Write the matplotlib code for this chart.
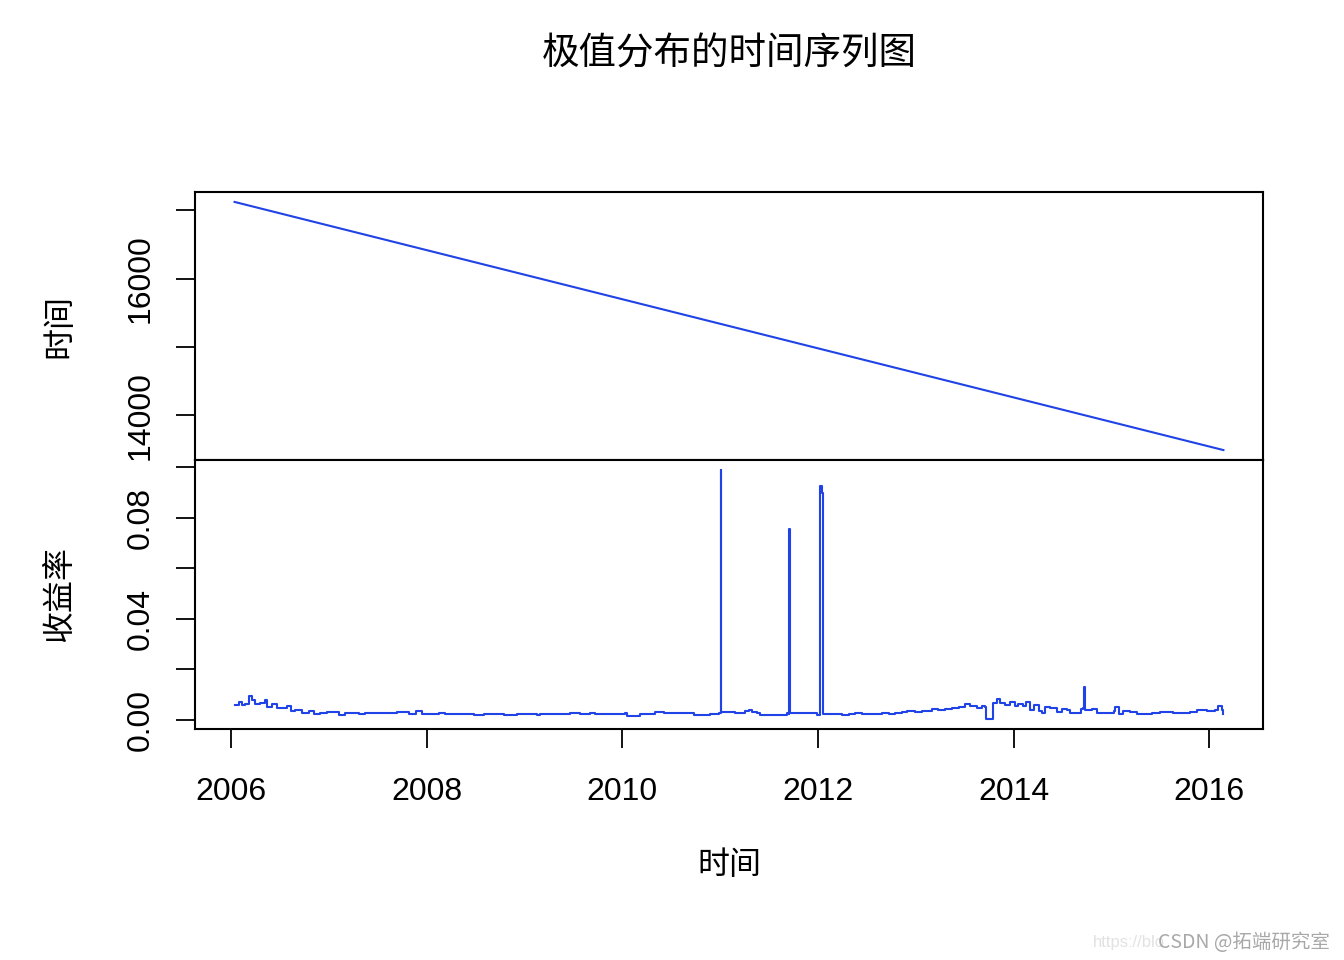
import numpy as np
import matplotlib
matplotlib.use('Agg')
import matplotlib.pyplot as plt

plt.rcParams['font.family'] = ['Liberation Sans', 'Noto Sans CJK SC', 'DejaVu Sans']
cjk = ['Noto Sans CJK SC', 'DejaVu Sans']

# top panel: the "时间" series (straight decline)
t_year = [2006.034, 2016.146]
t_val = [17124, 13489]

# bottom panel: 收益率 (decimal years)
r_year = [2006.034, 2006.075, 2006.109, 2006.143, 2006.184, 2006.211, 2006.245, 2006.297,
          2006.341, 2006.365, 2006.416, 2006.467, 2006.518, 2006.569, 2006.613, 2006.654,
          2006.723, 2006.791, 2006.842, 2006.910, 2006.978, 2007.046, 2007.097, 2007.166,
          2007.234, 2007.302, 2007.370, 2007.455, 2007.541, 2007.609, 2007.694, 2007.745,
          2007.813, 2007.888, 2007.950, 2008.052, 2008.120, 2008.188, 2008.256, 2008.324,
          2008.393, 2008.478, 2008.512, 2008.580, 2008.785, 2008.921, 2009.125, 2009.160,
          2009.330, 2009.466, 2009.568, 2009.671, 2009.722, 2009.875, 2010.029, 2010.046,
          2010.114, 2010.182, 2010.301, 2010.335, 2010.421, 2010.557, 2010.625, 2010.727,
          2010.830, 2010.898, 2010.983, 2011.004, 2011.008, 2011.012, 2011.034, 2011.119,
          2011.153, 2011.256, 2011.290, 2011.324, 2011.375, 2011.409, 2011.665, 2011.682,
          2011.702, 2011.706, 2011.710, 2011.733, 2011.971, 2011.988, 2012.018, 2012.022,
          2012.043, 2012.047, 2012.074, 2012.210, 2012.244, 2012.312, 2012.380, 2012.449,
          2012.619, 2012.653, 2012.721, 2012.789, 2012.857, 2012.908, 2012.994, 2013.062,
          2013.164, 2013.232, 2013.301, 2013.369, 2013.437, 2013.505, 2013.556, 2013.624,
          2013.675, 2013.710, 2013.713, 2013.788, 2013.791, 2013.829, 2013.863, 2013.914,
          2013.965, 2014.016, 2014.050, 2014.101, 2014.125, 2014.170, 2014.204, 2014.255,
          2014.289, 2014.323, 2014.374, 2014.442, 2014.493, 2014.545, 2014.579, 2014.647,
          2014.688, 2014.712, 2014.718, 2014.722, 2014.726, 2014.800, 2014.851, 2014.953,
          2015.022, 2015.039, 2015.073, 2015.124, 2015.192, 2015.260, 2015.362, 2015.414,
          2015.499, 2015.567, 2015.635, 2015.738, 2015.806, 2015.874, 2015.976, 2016.061,
          2016.095, 2016.129, 2016.146]
r_val = [0.0057, 0.0072, 0.0059, 0.0063, 0.0096, 0.0079, 0.0063, 0.0066,
         0.0079, 0.0050, 0.0063, 0.0046, 0.0046, 0.0053, 0.0033, 0.0039,
         0.0026, 0.0033, 0.0024, 0.0026, 0.0032, 0.0029, 0.0020, 0.0025,
         0.0026, 0.0024, 0.0028, 0.0026, 0.0026, 0.0026, 0.0032, 0.0029,
         0.0022, 0.0036, 0.0024, 0.0022, 0.0026, 0.0024, 0.0021, 0.0022,
         0.0021, 0.0020, 0.0017, 0.0022, 0.0017, 0.0021, 0.0017, 0.0022,
         0.0022, 0.0026, 0.0022, 0.0026, 0.0022, 0.0022, 0.0026, 0.0016,
         0.0016, 0.0022, 0.0022, 0.0030, 0.0028, 0.0028, 0.0025, 0.0017,
         0.0017, 0.0022, 0.0026, 0.0030, 0.0988, 0.0030, 0.0029, 0.0029,
         0.0025, 0.0033, 0.0040, 0.0030, 0.0026, 0.0017, 0.0017, 0.0026,
         0.0022, 0.0755, 0.0025, 0.0025, 0.0025, 0.0018, 0.0020, 0.0925,
         0.0897, 0.0021, 0.0021, 0.0021, 0.0018, 0.0021, 0.0025, 0.0022,
         0.0022, 0.0028, 0.0022, 0.0028, 0.0032, 0.0036, 0.0030, 0.0036,
         0.0042, 0.0040, 0.0043, 0.0045, 0.0049, 0.0063, 0.0053, 0.0046,
         0.0055, 0.0049, 0.0003, 0.0003, 0.0068, 0.0083, 0.0068, 0.0059,
         0.0072, 0.0053, 0.0063, 0.0055, 0.0070, 0.0040, 0.0059, 0.0033,
         0.0026, 0.0050, 0.0046, 0.0032, 0.0042, 0.0037, 0.0026, 0.0026,
         0.0042, 0.0045, 0.0079, 0.0129, 0.0040, 0.0042, 0.0026, 0.0026,
         0.0033, 0.0049, 0.0024, 0.0033, 0.0030, 0.0022, 0.0021, 0.0026,
         0.0030, 0.0032, 0.0026, 0.0026, 0.0032, 0.0037, 0.0036, 0.0037,
         0.0053, 0.0040, 0.0022]

years = list(range(2006, 2017, 2))
line_col = '#1f43e6'

fig = plt.figure(figsize=(13.44, 9.6), dpi=100)
ax1 = fig.add_axes([195/1344, 1-460/960, 1068/1344, 268/960])
ax2 = fig.add_axes([195/1344, 1-729/960, 1068/1344, 269/960], sharex=ax1)

ax1.plot(t_year, t_val, color=line_col, lw=1.5)
ax2.plot(r_year, r_val, color=line_col, lw=1.5, drawstyle='steps-post')

for ax in (ax1, ax2):
    ax.margins(x=0.04, y=0.04)
    for s in ax.spines.values():
        s.set_linewidth(1.5)
    ax.tick_params(axis='both', direction='out', length=13.5, width=1.3, labelsize=23, pad=15)

ax1.set_yticks([14000, 15000, 16000, 17000])
ax1.set_yticklabels(['14000', '', '16000', ''], rotation=90, va='center')
ax2.set_yticks([0.0, 0.02, 0.04, 0.06, 0.08, 0.10])
ax2.set_yticklabels(['0.00', '', '0.04', '', '0.08', ''], rotation=90, va='center')

ax1.tick_params(axis='x', bottom=False, labelbottom=False)
ax2.set_xticks(years)
ax2.set_xticklabels([str(y) for y in years])
ax2.tick_params(axis='x', pad=21)

ax1.set_ylabel('时间', family=cjk, fontsize=23)
ax2.set_ylabel('收益率', family=cjk, fontsize=23)
ax1.yaxis.set_label_coords(-120/1068, 0.5)
ax2.yaxis.set_label_coords(-120/1068, 0.5)

ax2.set_xlabel('时间', family=cjk, fontsize=23, labelpad=30)

fig.text(729/1344, 1-54/960, '极值分布的时间序列图', family=cjk, fontsize=27,
         ha='center', va='center')

fig.text(1093/1344, 1-942/960, 'https://blo', fontsize=12, color='#e2e2e2',
         ha='left', va='center')
fig.text(1330/1344, 1-942/960, 'CSDN @拓端研究室', family=cjk, fontsize=14,
         color='#a8a8a8', ha='right', va='center')

fig.savefig('out.png', dpi=100)
